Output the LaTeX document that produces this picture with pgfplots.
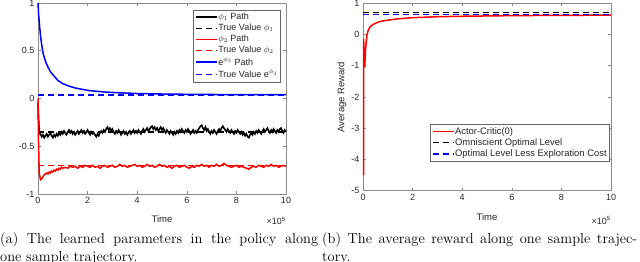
\documentclass[border=0pt]{standalone}
\usepackage{fontspec}
\usepackage{pgfplots}
\pgfplotsset{compat=1.18}
\newfontfamily\plotfont{Liberation Sans}
\definecolor{mblue}{rgb}{0,0,1}
\definecolor{mred}{rgb}{1,0,0}
\definecolor{axgray}{gray}{0.55}
\definecolor{txtgray}{gray}{0.15}
\pgfplotsset{
  mstyle/.style={
    scale only axis, width=248pt,
    xmin=0, xmax=10, xtick={0,2,4,6,8,10},
    axis line style={axgray, line width=0.6pt},
    tick style={axgray, line width=0.6pt},
    major tick length=3pt,
    tick align=inside,
    ticklabel style={font=\plotfont\fontsize{9}{10}\selectfont, text=txtgray},
    /pgf/number format/assume math mode=true,
    label style={font=\plotfont\fontsize{9.5}{11}\selectfont, text=txtgray},
    xlabel={Time},
    clip=false,
    legend cell align=left,
    legend style={font=\plotfont\fontsize{9}{10}\selectfont, draw=black!60, line width=0.5pt, fill=white, text=txtgray,
      nodes={inner xsep=0.6pt, inner ysep=1.5pt}, inner xsep=1.5pt, inner ysep=1.5pt, row sep=0pt},
    legend image code/.code={\draw[##1] (0pt,0pt) -- (21pt,0pt);},
  },
}
\begin{document}
\begin{tikzpicture}
\path[use as bounding box] (0pt,0pt) rectangle (640pt,262pt);
% ---------------- left axis ----------------
\begin{axis}[mstyle, name=L, at={(38pt,68pt)}, anchor=south west, height=191pt,
  ymin=-1, ymax=1, ytick={-1,-0.5,0,0.5,1}, yticklabels={-1,-0.5,0,0.5,1},
  xlabel style={at={(axis description cs:0.5,-0.131)}, anchor=center},
  legend style={at={(axis description cs:1,1)}, anchor=north east, xshift=-6pt, yshift=-7pt},
]
\addplot[color=black, solid, line width=1.6pt] coordinates {
(0,-0.05)(0.03,-0.25)(0.06,-0.37)
(0.10,-0.37)(0.15,-0.40)(0.20,-0.38)(0.25,-0.41)(0.30,-0.39)(0.35,-0.37)(0.40,-0.40)(0.45,-0.38)(0.50,-0.36)(0.55,-0.39)
(0.60,-0.41)(0.65,-0.38)(0.70,-0.40)(0.75,-0.37)(0.80,-0.39)(0.85,-0.36)(0.90,-0.38)(0.95,-0.35)(1.00,-0.37)(1.05,-0.34)
(1.10,-0.36)(1.15,-0.38)(1.20,-0.35)(1.25,-0.33)(1.30,-0.36)(1.35,-0.34)(1.40,-0.37)(1.45,-0.35)(1.50,-0.38)(1.55,-0.36)
(1.60,-0.34)(1.65,-0.37)(1.70,-0.35)(1.75,-0.33)(1.80,-0.36)(1.85,-0.34)(1.90,-0.37)(1.95,-0.35)(2.00,-0.33)(2.05,-0.36)
(2.10,-0.38)(2.15,-0.35)(2.20,-0.37)(2.25,-0.36)(2.30,-0.38)(2.35,-0.40)(2.40,-0.37)(2.45,-0.39)(2.50,-0.36)(2.55,-0.34)
(2.60,-0.36)(2.65,-0.33)(2.70,-0.35)(2.75,-0.32)(2.80,-0.30)(2.85,-0.33)(2.90,-0.31)(2.95,-0.34)(3.00,-0.32)(3.05,-0.35)
(3.10,-0.37)(3.15,-0.34)(3.20,-0.36)(3.25,-0.33)(3.30,-0.35)(3.35,-0.38)(3.40,-0.36)(3.45,-0.34)(3.50,-0.37)(3.55,-0.35)
(3.60,-0.38)(3.65,-0.36)(3.70,-0.34)(3.75,-0.37)(3.80,-0.35)(3.85,-0.33)(3.90,-0.36)(3.95,-0.34)(4.00,-0.36)(4.05,-0.33)
(4.10,-0.35)(4.15,-0.37)(4.20,-0.34)(4.25,-0.32)(4.30,-0.35)(4.35,-0.33)(4.40,-0.31)(4.45,-0.34)(4.50,-0.32)(4.55,-0.30)
(4.60,-0.29)(4.65,-0.32)(4.70,-0.30)(4.75,-0.33)(4.80,-0.31)(4.85,-0.34)(4.90,-0.32)(4.95,-0.30)(5.00,-0.33)(5.05,-0.31)
(5.10,-0.34)(5.15,-0.36)(5.20,-0.33)(5.25,-0.35)(5.30,-0.37)(5.35,-0.34)(5.40,-0.36)(5.45,-0.38)(5.50,-0.35)(5.55,-0.37)
(5.60,-0.34)(5.65,-0.36)(5.70,-0.33)(5.75,-0.35)(5.80,-0.32)(5.85,-0.34)(5.90,-0.36)(5.95,-0.33)(6.00,-0.35)(6.05,-0.32)
(6.10,-0.34)(6.15,-0.37)(6.20,-0.35)(6.25,-0.33)(6.30,-0.36)(6.35,-0.34)(6.40,-0.36)(6.45,-0.33)(6.50,-0.31)(6.55,-0.29)
(6.60,-0.28)(6.65,-0.31)(6.70,-0.33)(6.75,-0.30)(6.80,-0.34)(6.85,-0.32)(6.90,-0.35)(6.95,-0.37)(7.00,-0.34)(7.05,-0.36)
(7.10,-0.33)(7.15,-0.35)(7.20,-0.37)(7.25,-0.34)(7.30,-0.32)(7.35,-0.34)(7.40,-0.31)(7.45,-0.29)(7.50,-0.31)(7.55,-0.33)
(7.60,-0.35)(7.65,-0.32)(7.70,-0.34)(7.75,-0.36)(7.80,-0.33)(7.85,-0.35)(7.90,-0.37)(7.95,-0.34)(8.00,-0.36)(8.05,-0.33)
(8.10,-0.35)(8.15,-0.37)(8.20,-0.35)(8.25,-0.38)(8.30,-0.36)(8.35,-0.39)(8.40,-0.37)(8.45,-0.40)(8.50,-0.41)(8.55,-0.38)
(8.60,-0.36)(8.65,-0.38)(8.70,-0.35)(8.75,-0.37)(8.80,-0.34)(8.85,-0.36)(8.90,-0.33)(8.95,-0.35)(9.00,-0.37)(9.05,-0.34)
(9.10,-0.32)(9.15,-0.35)(9.20,-0.33)(9.25,-0.31)(9.30,-0.34)(9.35,-0.36)(9.40,-0.33)(9.45,-0.35)(9.50,-0.32)(9.55,-0.34)
(9.60,-0.36)(9.65,-0.33)(9.70,-0.35)(9.75,-0.32)(9.80,-0.31)(9.85,-0.34)(9.90,-0.36)(9.95,-0.33)(10.0,-0.35)
};
\addlegendentry{$\phi_1$ Path}
\addplot[color=black, line width=1.5pt, dash pattern=on 6pt off 4pt] coordinates {(0,-0.35)(10,-0.35)};
\addlegendentry{True Value $\phi_1$}
\addplot[color=mred, solid, line width=1.5pt] coordinates {
(0.00,0)(0.02,-0.45)(0.05,-0.78)(0.10,-0.85)(0.15,-0.84)(0.20,-0.82)(0.25,-0.80)(0.30,-0.79)(0.35,-0.78)(0.40,-0.79)
(0.45,-0.77)(0.50,-0.78)(0.55,-0.76)(0.60,-0.77)(0.65,-0.75)(0.70,-0.76)(0.75,-0.74)(0.80,-0.75)(0.85,-0.73)(0.90,-0.74)
(0.95,-0.72)(1.00,-0.73)(1.1,-0.72)(1.2,-0.73)(1.3,-0.71)(1.4,-0.72)(1.5,-0.71)(1.6,-0.73)(1.7,-0.71)(1.8,-0.72)
(1.9,-0.70)(2.0,-0.71)(2.1,-0.72)(2.2,-0.70)(2.3,-0.72)(2.4,-0.71)(2.5,-0.73)(2.6,-0.71)(2.7,-0.70)(2.8,-0.72)
(2.9,-0.71)(3.0,-0.70)(3.1,-0.72)(3.2,-0.71)(3.3,-0.69)(3.4,-0.71)(3.5,-0.70)(3.6,-0.72)(3.7,-0.71)(3.8,-0.70)
(3.9,-0.69)(4.0,-0.71)(4.1,-0.70)(4.2,-0.72)(4.3,-0.71)(4.4,-0.69)(4.5,-0.71)(4.6,-0.70)(4.7,-0.72)(4.8,-0.71)
(4.9,-0.69)(5.0,-0.71)(5.1,-0.70)(5.2,-0.72)(5.3,-0.71)(5.4,-0.73)(5.5,-0.71)(5.6,-0.70)(5.7,-0.72)(5.8,-0.71)
(5.9,-0.70)(6.0,-0.72)(6.1,-0.73)(6.2,-0.71)(6.3,-0.72)(6.4,-0.70)(6.5,-0.71)(6.6,-0.69)(6.7,-0.71)(6.8,-0.70)
(6.9,-0.72)(7.0,-0.70)(7.1,-0.71)(7.2,-0.69)(7.3,-0.71)(7.4,-0.70)(7.5,-0.68)(7.6,-0.70)(7.7,-0.71)(7.8,-0.72)
(7.9,-0.71)(8.0,-0.70)(8.1,-0.72)(8.2,-0.71)(8.3,-0.72)(8.4,-0.73)(8.5,-0.74)(8.6,-0.72)(8.7,-0.71)(8.8,-0.72)
(8.9,-0.70)(9.0,-0.71)(9.1,-0.72)(9.2,-0.70)(9.3,-0.71)(9.4,-0.69)(9.5,-0.71)(9.6,-0.70)(9.7,-0.72)(9.8,-0.71)
(9.9,-0.70)(10.0,-0.71)
};
\addlegendentry{$\phi_2$ Path}
\addplot[color=mred, line width=1.5pt, dash pattern=on 6pt off 4pt] coordinates {(0,-0.70)(10,-0.70)};
\addlegendentry{True Value $\phi_2$}
\addplot[color=mblue, solid, line width=1.5pt] coordinates {
(0,1.0)(0.02,0.9)(0.05,0.8)(0.1,0.66)(0.15,0.56)(0.2,0.48)(0.3,0.39)(0.4,0.33)(0.5,0.28)(0.6,0.25)(0.8,0.19)
(1.0,0.155)(1.25,0.13)(1.5,0.11)(2,0.085)(2.5,0.072)(3,0.063)(4,0.052)(5,0.047)(6,0.044)(7,0.042)(8,0.041)(10,0.04)
};
\addlegendentry{e$^{\phi_3}$ Path}
\addplot[color=mblue, line width=1.5pt, dash pattern=on 6pt off 4pt] coordinates {(0,0.035)(10,0.035)};
\addlegendentry{True Value e$^{\phi_3}$}
\end{axis}
\node[anchor=base east, font=\plotfont\fontsize{9}{10}\selectfont, text=txtgray, inner sep=0pt]
  at ([yshift=-31pt]L.south east) {×10\textsuperscript{5}};
% ---------------- right axis ----------------
\begin{axis}[mstyle, name=R, at={(363pt,71.3pt)}, anchor=south west, height=187.4pt,
  ymin=-5, ymax=1, ytick={-5,-4,-3,-2,-1,0,1}, yticklabels={-5,-4,-3,-2,-1,0,1},
  xlabel style={at={(axis description cs:0.5,-0.139)}, anchor=center},
  ylabel={Average Reward},
  ylabel style={at={(axis description cs:-0.0847,0.5)}, anchor=center},
  legend style={at={(axis description cs:1,0.356)}, anchor=north east, xshift=-2pt,
    font=\plotfont\fontsize{9.4}{10.5}\selectfont},
]
\addplot[color=mred, solid, line width=1.5pt] coordinates {
(0.02,-4.5)(0.025,-0.15)(0.07,-1.05)(0.1,-0.5)(0.16,0.0)(0.22,0.15)(0.29,0.25)(0.4,0.32)(0.5,0.36)(0.65,0.41)
(0.83,0.44)(1.0,0.46)(1.37,0.50)(2,0.54)(2.7,0.56)(3,0.57)(4,0.585)(5,0.595)(6,0.605)(8,0.615)(10,0.62)
};
\addlegendentry{Actor-Critic(0)}
\addplot[color=black, line width=1.5pt, dash pattern=on 6pt off 4pt] coordinates {(0,0.71)(10,0.71)};
\addlegendentry{Omniscient Optimal Level}
\addplot[color=mblue, line width=1.5pt, dash pattern=on 6pt off 4pt] coordinates {(0,0.64)(10,0.64)};
\addlegendentry{Optimal Level Less Exploration Cost}
\end{axis}
\node[anchor=base east, font=\plotfont\fontsize{9}{10}\selectfont, text=txtgray, inner sep=0pt]
  at ([yshift=-34pt]R.south east) {×10\textsuperscript{5}};
% ---------------- captions ----------------
\node[anchor=base west, inner sep=0pt, font=\fontsize{14.5}{17}\selectfont] at (0pt,18pt)
  {\makebox[318pt][s]{(a) The learned parameters in the policy along}};
\node[anchor=base west, inner sep=0pt, font=\fontsize{14.5}{17}\selectfont] at (0pt,0.7pt)
  {one sample trajectory.};
\node[anchor=base west, inner sep=0pt, font=\fontsize{14.5}{17}\selectfont] at (322pt,18pt)
  {\makebox[315pt][s]{(b) The average reward along one sample trajec-}};
\node[anchor=base west, inner sep=0pt, font=\fontsize{14.5}{17}\selectfont] at (322pt,0.7pt)
  {tory.};
\end{tikzpicture}
\end{document}
